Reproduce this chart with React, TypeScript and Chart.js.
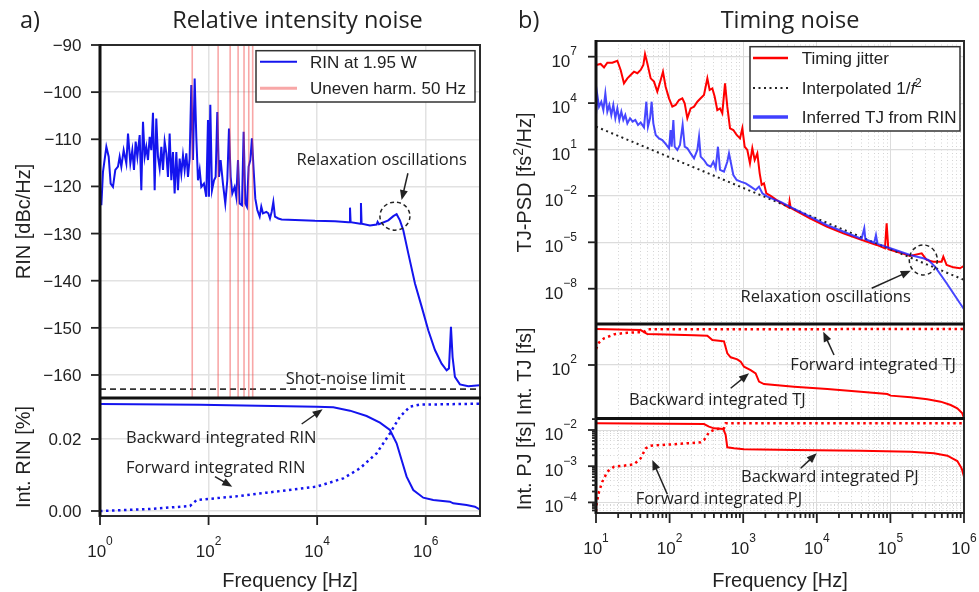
import React, { useEffect, useRef } from 'react';
import { Chart, registerables } from 'chart.js';

Chart.register(...registerables);

// ================= DATA: panel a) Relative intensity noise =================
// log10(frequency / Hz) and RIN in dBc/Hz
const rinLogFreq = [0.025, 0.055, 0.117, 0.160, 0.196, 0.239, 0.282, 0.331, 0.362, 0.393, 0.436, 0.485, 0.516, 0.559, 0.595, 0.626, 0.657, 0.688, 0.731, 0.761, 0.792, 0.823, 0.853, 0.884, 0.915, 0.945, 0.976, 1.007, 1.037, 1.068, 1.099, 1.130, 1.160, 1.191, 1.222, 1.252, 1.283, 1.314, 1.344, 1.375, 1.406, 1.436, 1.467, 1.498, 1.529, 1.559, 1.590, 1.621, 1.651, 1.682, 1.713, 1.744, 1.774, 1.805, 1.836, 1.866, 1.915, 1.958, 1.989, 2.007, 2.032, 2.063, 2.100, 2.130, 2.161, 2.192, 2.222, 2.265, 2.308, 2.345, 2.376, 2.407, 2.437, 2.480, 2.511, 2.542, 2.572, 2.615, 2.646, 2.677, 2.707, 2.738, 2.769, 2.799, 2.830, 2.861, 2.898, 2.941, 2.971, 3.002, 3.064, 3.100, 3.131, 3.162, 3.193, 3.223, 3.285, 3.346, 3.592, 3.960, 4.328, 4.574, 4.598, 4.605, 4.617, 4.795, 4.807, 4.819, 4.973, 5.096, 5.114, 5.139, 5.311, 5.403, 5.464, 5.525, 5.587, 5.679, 5.802, 5.925, 6.047, 6.170, 6.293, 6.385, 6.428, 6.465, 6.495, 6.538, 6.630, 6.784, 6.994];
const rinDbc = [-124.0, -116.9, -111.6, -113.7, -119.4, -120.1, -116.5, -115.8, -113.7, -115.8, -112.3, -115.1, -108.8, -115.1, -112.3, -116.5, -110.5, -113.7, -109.1, -120.8, -106.3, -113.7, -111.6, -114.4, -109.5, -112.3, -104.4, -120.8, -105.6, -113.7, -116.2, -111.6, -116.5, -110.5, -113.0, -118.0, -108.8, -118.7, -112.7, -121.5, -112.7, -120.8, -114.1, -117.3, -113.4, -116.5, -113.0, -118.0, -114.1, -98.5, -114.4, -97.1, -109.5, -118.7, -116.5, -120.1, -119.4, -122.2, -105.9, -122.2, -102.7, -120.8, -118.7, -118.0, -104.2, -118.0, -114.4, -119.4, -123.6, -118.7, -107.7, -118.0, -121.5, -120.1, -122.2, -114.4, -123.6, -124.0, -108.4, -123.6, -124.3, -115.8, -114.4, -109.8, -116.5, -122.6, -125.0, -126.4, -124.3, -125.7, -125.4, -125.7, -126.8, -125.4, -123.3, -126.4, -126.8, -127.0, -127.1, -127.3, -127.4, -127.6, -127.6, -124.5, -127.6, -127.9, -123.5, -127.9, -128.3, -128.1, -127.5, -128.0, -127.2, -126.3, -125.9, -127.2, -129.3, -134.2, -140.6, -145.5, -150.5, -154.7, -157.6, -159.0, -158.6, -149.8, -156.2, -160.4, -162.0, -162.4, -162.2];
const harmonicFreqs = [50, 150, 250, 350, 450, 550, 650];
const shotNoiseDbc = -163;
const intRinBackLogFreq = [0.0, 1.842, 3.990, 4.297, 4.604, 4.911, 5.157, 5.341, 5.464, 5.556, 5.648, 5.771, 5.955, 6.139, 6.446, 6.507, 6.753, 6.906, 6.994];
const intRinBack = [0.02972, 0.02954, 0.02898, 0.02880, 0.02787, 0.02639, 0.02454, 0.02250, 0.01880, 0.01417, 0.00954, 0.00583, 0.00370, 0.00306, 0.00259, 0.00213, 0.00167, 0.00120, 0.00046];
const intRinFwdLogFreq = [0.0, 0.921, 1.658, 1.780, 2.456, 3.070, 3.990, 4.481, 4.788, 5.095, 5.341, 5.525, 5.709, 5.894, 6.994];
const intRinFwd = [0.0, 0.00056, 0.00139, 0.00306, 0.00398, 0.00509, 0.00676, 0.00907, 0.01185, 0.01602, 0.02157, 0.02620, 0.02898, 0.02954, 0.02981];
const rinTicks = [-90, -100, -110, -120, -130, -140, -150, -160];
const intRinTicks = [0, 0.02];
const leftFreqTickExp = [0, 2, 4, 6];

// ================= DATA: panel b) Timing noise =================
// log10(frequency / Hz) and log10(TJ-PSD / fs^2/Hz)
const tjLogFreq = [1.0, 1.063, 1.109, 1.154, 1.222, 1.290, 1.335, 1.380, 1.426, 1.471, 1.516, 1.562, 1.607, 1.643, 1.666, 1.697, 1.743, 1.788, 1.833, 1.879, 1.910, 1.946, 1.992, 2.037, 2.082, 2.128, 2.173, 2.205, 2.241, 2.286, 2.332, 2.377, 2.422, 2.467, 2.513, 2.544, 2.581, 2.612, 2.648, 2.685, 2.716, 2.753, 2.784, 2.821, 2.866, 2.911, 2.957, 2.988, 3.020, 3.056, 3.092, 3.124, 3.156, 3.192, 3.224, 3.251, 3.282, 3.314, 3.373, 3.441, 3.509, 3.620, 3.630, 3.645, 3.681, 3.907, 4.134, 4.360, 4.587, 4.813, 4.926, 4.949, 4.972, 5.130, 5.266, 5.425, 5.493, 5.583, 5.696, 5.719, 5.764, 5.855, 5.945, 6.0];
const tjLogPsd = [6.46, 6.53, 6.31, 6.61, 6.61, 6.74, 6.14, 5.28, 5.60, 5.82, 6.03, 5.93, 6.14, 6.46, 7.17, 6.57, 5.60, 5.39, 4.74, 5.49, 6.03, 5.06, 4.31, 3.77, 3.88, 4.20, 4.31, 3.98, 3.02, 3.66, 3.77, 4.09, 4.31, 4.52, 5.60, 4.85, 4.95, 4.42, 3.55, 3.66, 3.34, 5.28, 3.77, 2.37, 2.26, 1.94, 1.72, 2.37, 1.18, 0.97, 0.11, 1.08, 0.32, 0.75, -0.54, -1.29, -1.19, -1.83, -2.0, -2.22, -2.44, -2.75, -2.35, -2.78, -2.87, -3.45, -3.99, -4.42, -4.81, -5.17, -5.39, -3.77, -5.45, -5.67, -5.88, -5.71, -6.14, -6.25, -6.25, -5.93, -6.47, -6.62, -6.68, -6.53];
const rinTjLogFreq = [1.0, 1.018, 1.041, 1.072, 1.100, 1.127, 1.154, 1.181, 1.208, 1.235, 1.263, 1.290, 1.317, 1.344, 1.371, 1.398, 1.426, 1.462, 1.498, 1.534, 1.571, 1.607, 1.652, 1.684, 1.706, 1.734, 1.756, 1.779, 1.811, 1.856, 1.901, 1.946, 1.992, 2.014, 2.028, 2.051, 2.069, 2.105, 2.141, 2.177, 2.205, 2.241, 2.286, 2.332, 2.377, 2.400, 2.422, 2.467, 2.513, 2.558, 2.594, 2.626, 2.657, 2.685, 2.739, 2.784, 2.807, 2.830, 2.866, 2.911, 2.966, 3.034, 3.102, 3.169, 3.215, 3.260, 3.328, 3.418, 3.509, 3.681, 4.134, 4.587, 4.610, 4.645, 4.660, 4.780, 4.804, 4.825, 5.040, 5.266, 5.447, 5.515, 5.606, 5.764, 5.900, 6.0];
const rinTjLogPsd = [3.23, 4.52, 3.77, 4.09, 3.55, 4.63, 3.45, 3.88, 3.23, 3.88, 3.02, 3.66, 2.91, 3.45, 2.91, 3.23, 2.69, 3.02, 2.80, 2.91, 2.59, 2.74, 2.43, 4.09, 2.48, 3.02, 4.09, 2.69, 1.94, 1.72, 1.61, 1.36, 1.08, 2.26, 1.18, 2.91, 1.18, 0.97, 1.29, 2.59, 1.18, 1.08, 0.75, 0.43, 0.97, 1.83, 0.54, 0.32, 0.0, -0.11, 0.21, -0.22, 1.18, -0.32, -0.43, 0.21, 0.75, 0.21, -0.65, -0.97, -1.08, -1.19, -1.40, -1.62, -1.40, -1.83, -2.05, -2.22, -2.39, -2.80, -3.88, -4.74, -4.76, -4.09, -4.80, -5.03, -4.53, -5.10, -5.45, -5.82, -6.03, -6.14, -6.57, -7.65, -8.62, -9.33];
const interpLogFreq = [1.0, 6.0];
const interpLogPsd = [2.48, -7.43];
// log10(integrated timing jitter / fs)
const intTjBackLogFreq = [1.0, 1.607, 1.698, 2.332, 2.513, 2.581, 2.671, 2.739, 2.784, 2.830, 2.920, 2.966, 3.011, 3.101, 3.169, 3.215, 3.282, 3.690, 4.143, 4.596, 4.958, 5.004, 5.275, 5.502, 5.683, 5.819, 5.909, 5.977, 6.0];
const intTjBackLog = [2.450, 2.437, 2.387, 2.371, 2.367, 2.312, 2.304, 2.296, 2.146, 2.096, 2.071, 2.042, 1.979, 1.937, 1.896, 1.792, 1.762, 1.729, 1.700, 1.667, 1.637, 1.617, 1.596, 1.571, 1.542, 1.500, 1.458, 1.396, 1.335];
const intTjFwdLogFreq = [1.0, 1.041, 1.109, 1.244, 1.426, 1.652, 1.698, 6.0];
const intTjFwdLog = [2.20, 2.28, 2.333, 2.383, 2.404, 2.412, 2.446, 2.450];
// log10(integrated phase jitter / fs)
const intPjBackLogFreq = [1.0, 2.467, 2.535, 2.603, 2.730, 2.762, 2.784, 2.875, 3.011, 3.690, 4.596, 5.275, 5.592, 5.774, 5.909, 5.968, 6.0];
const intPjBackLog = [-1.816, -1.835, -1.908, -1.954, -1.973, -2.138, -2.479, -2.507, -2.534, -2.553, -2.571, -2.599, -2.645, -2.709, -2.857, -3.059, -3.29];
const intPjFwdLogFreq = [1.0, 1.009, 1.041, 1.086, 1.154, 1.244, 1.380, 1.516, 1.607, 1.675, 1.743, 1.879, 2.105, 2.422, 2.467, 2.535, 2.626, 2.739, 2.762, 6.0];
const intPjFwdLog = [-4.25, -4.026, -3.704, -3.428, -3.151, -3.013, -2.985, -2.949, -2.783, -2.507, -2.433, -2.415, -2.387, -2.341, -2.277, -2.065, -1.973, -1.954, -1.816, -1.816];
const psdTickExp = [7, 4, 1, -2, -5, -8];
const tjTickExp = [2];
const pjTickExp = [-2, -3, -4];
const rightFreqTickExp = [1, 2, 3, 4, 5, 6];

// ================= helpers / styling =================
const lg = (e: number) => Math.pow(10, e);
const pts = (lf: number[], v: number[], logY = false) =>
  lf.map((e, i) => ({ x: lg(e), y: logY ? lg(v[i]) : v[i] }));
const minus = (n: number) => (n < 0 ? '\u2212' + Math.abs(n) : String(n));
const pow10 = (e: number) => [{ t: '10' }, { t: minus(e), sup: true }];
const isMajor = (v: number) => v > 0 && Math.abs(Math.log10(v) - Math.round(Math.log10(v))) < 1e-6;

const TICK_FONT = '"Liberation Sans", Arial, Helvetica, sans-serif';
const NOTE_FONT = '"Open Sans", "Noto Sans", sans-serif';
const INK = '#222222';

const RIN_MIN = -164.88, RIN_MAX = -90;
const INT_MIN = -0.00139, INT_MAX = 0.03139;
const PSD_MIN = lg(-10.282), PSD_MAX = lg(8.015);
const TJ_MIN = lg(1.33125), TJ_MAX = lg(2.5125);
const PJ_MIN = lg(-4.2928), PJ_MAX = lg(-1.6823);

function minorLogTicks(minV: number, maxV: number) {
  const out: number[] = [];
  for (let e = -12; e <= 9; e++) {
    for (let k = 1; k <= 9; k++) {
      const v = k * Math.pow(10, e);
      if (v >= minV * 0.9999 && v <= maxV * 1.0001) out.push(v);
    }
  }
  return out;
}

function drawSegs(ctx: any, segs: any[], x: number, y: number, size: number, family: string, align: string, raise = 0.42) {
  const supSize = Math.round(size * 0.7);
  const fontOf = (s: any) => `${s.italic ? 'italic ' : ''}${s.sup ? supSize : size}px ${family}`;
  const widths = segs.map((s) => { ctx.font = fontOf(s); return ctx.measureText(s.t).width; });
  const total = widths.reduce((a: number, b: number) => a + b, 0);
  let cx = align === 'left' ? x : align === 'center' ? x - total / 2 : x - total;
  ctx.textAlign = 'left';
  ctx.textBaseline = 'alphabetic';
  segs.forEach((s, i) => {
    ctx.font = fontOf(s);
    ctx.fillText(s.t, cx, s.sup ? y - size * raise : y);
    cx += widths[i];
  });
}

function decorPlugin(spec: any) {
  return {
    id: 'decor',
    afterDraw(chart: any) {
      const ctx = chart.ctx;
      const ca = chart.chartArea;
      const xs = chart.scales[spec.xId];
      const line = (x1: number, y1: number, x2: number, y2: number) => {
        ctx.beginPath(); ctx.moveTo(x1, y1); ctx.lineTo(x2, y2); ctx.stroke();
      };
      ctx.save();
      ctx.fillStyle = INK;
      ctx.strokeStyle = INK;

      // annotations
      spec.notes.forEach((n: any) => {
        const ys = chart.scales[n.axis];
        ctx.fillStyle = INK; ctx.strokeStyle = INK;
        if (n.text) {
          drawSegs(ctx, [{ t: n.text }], xs.getPixelForValue(n.x), ys.getPixelForValue(n.y), 16.5, NOTE_FONT, n.align);
        }
        if (n.arrow) {
          const [a, b, c, d] = n.arrow;
          const x1 = xs.getPixelForValue(a), y1 = ys.getPixelForValue(b);
          const x2 = xs.getPixelForValue(c), y2 = ys.getPixelForValue(d);
          const ang = Math.atan2(y2 - y1, x2 - x1);
          const cs = Math.cos(ang), sn = Math.sin(ang);
          ctx.lineWidth = 1.5;
          line(x1, y1, x2 - 6 * cs, y2 - 6 * sn);
          const bx = x2 - 10 * cs, by = y2 - 10 * sn;
          ctx.beginPath();
          ctx.moveTo(x2, y2);
          ctx.lineTo(bx - 4 * sn, by + 4 * cs);
          ctx.lineTo(bx + 4 * sn, by - 4 * cs);
          ctx.closePath();
          ctx.fill();
        }
        if (n.ellipse) {
          const [a, b, rx, ry] = n.ellipse;
          ctx.lineWidth = 1.5;
          ctx.setLineDash([4, 3]);
          ctx.beginPath();
          ctx.ellipse(xs.getPixelForValue(a), ys.getPixelForValue(b), rx, ry, 0, 0, Math.PI * 2);
          ctx.stroke();
          ctx.setLineDash([]);
        }
      });

      // legend
      const lgd = spec.legend;
      ctx.fillStyle = '#ffffff';
      ctx.fillRect(lgd.x, lgd.y, lgd.w, lgd.h);
      ctx.lineWidth = 1.5;
      ctx.strokeStyle = '#333333';
      ctx.strokeRect(lgd.x, lgd.y, lgd.w, lgd.h);
      lgd.items.forEach((it: any) => {
        ctx.strokeStyle = it.color;
        ctx.lineWidth = it.width;
        ctx.setLineDash(it.dash || []);
        line(lgd.lineX[0], it.y, lgd.lineX[1], it.y);
        ctx.setLineDash([]);
        ctx.fillStyle = INK;
        drawSegs(ctx, it.segs, lgd.textX, it.y + 6, 17, TICK_FONT, 'left');
      });

      // frames
      spec.yAxes.forEach((ax: any) => {
        const s = chart.scales[ax.id];
        ctx.lineWidth = 2;
        ctx.strokeStyle = '#2b2b2b';
        ctx.strokeRect(ca.left, s.top, ca.right - ca.left, s.bottom - s.top);
      });
      ctx.strokeStyle = '#111111';
      ctx.lineWidth = 3;
      line(ca.left, ca.top - 1, ca.left, ca.bottom + 1);
      spec.yAxes.slice(0, -1).forEach((ax: any) => {
        const s = chart.scales[ax.id];
        line(ca.left, s.bottom, ca.right + 1, s.bottom);
      });

      // y ticks, labels, titles
      ctx.fillStyle = INK;
      ctx.strokeStyle = INK;
      spec.yAxes.forEach((ax: any) => {
        const s = chart.scales[ax.id];
        ctx.lineWidth = 1.8;
        ax.marks.forEach((m: any) => {
          const y = s.getPixelForValue(m.v);
          line(ca.left - m.len, y, ca.left, y);
        });
        ax.labels.forEach((l: any) => {
          const y = s.getPixelForValue(l.v);
          drawSegs(ctx, l.segs, ca.left - spec.yLabelGap, y + l.dy, 17, TICK_FONT, 'right', 0.68);
        });
        ctx.save();
        ctx.translate(spec.yTitleX, (s.top + s.bottom) / 2);
        ctx.rotate(-Math.PI / 2);
        drawSegs(ctx, ax.title, 0, 0, 20, TICK_FONT, 'center', 0.4);
        ctx.restore();
      });

      // x ticks, labels, title
      ctx.lineWidth = 1.8;
      spec.xMarks.forEach((m: any) => {
        const x = xs.getPixelForValue(m.v);
        line(x, ca.bottom, x, ca.bottom + m.len);
      });
      spec.xLabels.forEach((l: any) => {
        drawSegs(ctx, l.segs, xs.getPixelForValue(l.v), ca.bottom + 41, 17, TICK_FONT, 'center', 0.68);
      });
      drawSegs(ctx, [{ t: spec.xTitle }], (ca.left + ca.right) / 2, spec.xTitleY, 20, TICK_FONT, 'center');

      // panel titles
      spec.texts.forEach((t: any) => {
        drawSegs(ctx, [{ t: t.t }], t.x, t.y, t.size, NOTE_FONT, t.align);
      });
      ctx.restore();
    },
  };
}

const gridColor = (c: any) => (c.tick && isMajor(c.tick.value) ? '#dcdcdc' : '#d4d4d4');
const gridDash = (c: any) => (c.tick && isMajor(c.tick.value) ? [] : [1, 2.5]);
const lineDs = (data: any[], yAxisID: string, color: string, width: number, extra: any = {}) => ({
  data, yAxisID, borderColor: color, backgroundColor: color, borderWidth: width,
  pointRadius: 0, fill: false, tension: 0, ...extra,
});

function leftConfig(): any {
  const datasets: any[] = [];
  harmonicFreqs.forEach((h) => {
    datasets.push(lineDs([{ x: h, y: RIN_MIN }, { x: h, y: RIN_MAX }], 'yRin', 'rgba(240,60,60,0.45)', 1.6, { order: 0 }));
  });
  datasets.push(lineDs(pts(rinLogFreq, rinDbc), 'yRin', '#1414ee', 2, { order: 2 }));
  datasets.push(lineDs([{ x: 1, y: shotNoiseDbc }, { x: 1e7, y: shotNoiseDbc }], 'yRin', '#333333', 1.8, { borderDash: [6, 4], order: 1 }));
  datasets.push(lineDs(pts(intRinBackLogFreq, intRinBack), 'yInt', '#1414ee', 2, { order: 3 }));
  datasets.push(lineDs(pts(intRinFwdLogFreq, intRinFwd), 'yInt', '#1414ee', 2.5, { borderDash: [2.5, 3.5], order: 4 }));

  const spec = {
    xId: 'x',
    xMarks: leftFreqTickExp.map((e) => ({ v: lg(e), len: 9 })),
    xLabels: leftFreqTickExp.map((e) => ({ v: lg(e), segs: pow10(e) })),
    xTitle: 'Frequency [Hz]',
    xTitleY: 587,
    yLabelGap: 18.5,
    yTitleX: 29.5,
    yAxes: [
      {
        id: 'yRin',
        marks: rinTicks.map((v) => ({ v, len: 9 })),
        labels: rinTicks.map((v) => ({ v, segs: [{ t: minus(v) }], dy: 6 })),
        title: [{ t: 'RIN [dBc/Hz]' }],
      },
      {
        id: 'yInt',
        marks: intRinTicks.map((v) => ({ v, len: 9 })),
        labels: intRinTicks.map((v) => ({ v, segs: [{ t: v.toFixed(2) }], dy: 6 })),
        title: [{ t: 'Int. RIN [%]' }],
      },
    ],
    legend: {
      x: 256, y: 50.7, w: 219, h: 51.3, lineX: [260, 297], textX: 310,
      items: [
        { segs: [{ t: 'RIN at 1.95 W' }], color: '#1414ee', width: 2, y: 61.7 },
        { segs: [{ t: 'Uneven harm. 50 Hz' }], color: 'rgba(240,60,60,0.45)', width: 3, y: 88.3 },
      ],
    },
    notes: [
      { axis: 'yRin', x: lg(5.188), y: -115.5, text: 'Relaxation oscillations', align: 'center' },
      { axis: 'yRin', arrow: [lg(5.672), -117.2, lg(5.556), -122.9] },
      { axis: 'yRin', ellipse: [lg(5.433), -126.3, 15, 14] },
      { axis: 'yRin', x: lg(4.521), y: -162.0, text: 'Shot-noise limit', align: 'center' },
      { axis: 'yInt', x: lg(0.479), y: 0.01897, text: 'Backward integrated RIN', align: 'left' },
      { axis: 'yInt', arrow: [lg(3.715), 0.02417, lg(4.101), 0.02825] },
      { axis: 'yInt', x: lg(0.479), y: 0.01064, text: 'Forward integrated RIN', align: 'left' },
      { axis: 'yInt', arrow: [lg(2.118), 0.00953, lg(2.436), 0.00675] },
    ],
    texts: [
      { t: 'a)', x: 20, y: 28, size: 23.5, align: 'left' },
      { t: 'Relative intensity noise', x: 297.5, y: 28.3, size: 23.5, align: 'center' },
    ],
  };

  const flatGrid = { color: '#e2e2e2', lineWidth: 1.5, drawTicks: false };
  return {
    type: 'line',
    data: { datasets },
    options: {
      responsive: false,
      animation: false,
      events: [],
      layout: { padding: { top: 45, right: 10, left: 0, bottom: 0 } },
      plugins: { legend: { display: false }, tooltip: { enabled: false } },
      scales: {
        x: {
          type: 'logarithmic', min: 1, max: 1e7, position: 'bottom',
          afterBuildTicks: (s: any) => { s.ticks = leftFreqTickExp.map((e) => ({ value: lg(e) })); },
          ticks: { display: false }, grid: flatGrid, border: { display: false },
          afterFit: (s: any) => { s.height = 76; },
        },
        yRin: {
          type: 'linear', min: RIN_MIN, max: RIN_MAX, position: 'left', stack: 'L', stackWeight: 353, weight: 2,
          afterBuildTicks: (s: any) => { s.ticks = rinTicks.map((v) => ({ value: v })); },
          ticks: { display: false }, grid: flatGrid, border: { display: false },
          afterFit: (s: any) => { s.width = 100; },
        },
        yInt: {
          type: 'linear', min: INT_MIN, max: INT_MAX, position: 'left', stack: 'L', stackWeight: 118, weight: 1,
          afterBuildTicks: (s: any) => { s.ticks = intRinTicks.map((v) => ({ value: v })); },
          ticks: { display: false }, grid: flatGrid, border: { display: false },
          afterFit: (s: any) => { s.width = 100; },
        },
      },
    },
    plugins: [decorPlugin(spec)],
  };
}

function rightConfig(): any {
  const datasets: any[] = [
    lineDs(pts(rinTjLogFreq, rinTjLogPsd, true), 'yPsd', 'rgba(30,30,255,0.82)', 2, { order: 0 }),
    lineDs(pts(interpLogFreq, interpLogPsd, true), 'yPsd', '#222222', 2, { borderDash: [2, 3.5], order: 1 }),
    lineDs(pts(tjLogFreq, tjLogPsd, true), 'yPsd', '#ff0000', 2, { order: 2 }),
    lineDs(pts(intTjBackLogFreq, intTjBackLog, true), 'yTj', '#ff0000', 2, { order: 3 }),
    lineDs(pts(intTjFwdLogFreq, intTjFwdLog, true), 'yTj', '#ff0000', 2.5, { borderDash: [2.5, 3.5], order: 4 }),
    lineDs(pts(intPjBackLogFreq, intPjBackLog, true), 'yPj', '#ff0000', 2, { order: 5 }),
    lineDs(pts(intPjFwdLogFreq, intPjFwdLog, true), 'yPj', '#ff0000', 2.5, { borderDash: [2.5, 3.5], order: 6 }),
  ];

  const xAll = minorLogTicks(10, 1e6);
  const pjAll = minorLogTicks(PJ_MIN, PJ_MAX);

  const spec = {
    xId: 'x',
    xMarks: xAll.map((v) => ({ v, len: isMajor(v) ? 10 : 5 })),
    xLabels: rightFreqTickExp.map((e) => ({ v: lg(e), segs: pow10(e) })),
    xTitle: 'Frequency [Hz]',
    xTitleY: 587,
    yLabelGap: 19,
    yTitleX: 41,
    yAxes: [
      {
        id: 'yPsd',
        marks: psdTickExp.map((e) => ({ v: lg(e), len: 8 })),
        labels: psdTickExp.map((e) => ({ v: lg(e), segs: pow10(e), dy: 10 })),
        title: [{ t: 'TJ-PSD [fs' }, { t: '2', sup: true }, { t: '/Hz]' }],
      },
      {
        id: 'yTj',
        marks: tjTickExp.map((e) => ({ v: lg(e), len: 8 })),
        labels: tjTickExp.map((e) => ({ v: lg(e), segs: pow10(e), dy: 10 })),
        title: [{ t: 'Int. TJ [fs]' }],
      },
      {
        id: 'yPj',
        marks: pjAll.map((v) => ({ v, len: isMajor(v) ? 8 : 4 })),
        labels: pjTickExp.map((e) => ({ v: lg(e), segs: pow10(e), dy: 10 })),
        title: [{ t: 'Int. PJ [fs]' }],
      },
    ],
    legend: {
      x: 260, y: 46.7, w: 210, h: 84.3, lineX: [263, 298], textX: 311.7,
      items: [
        { segs: [{ t: 'Timing jitter' }], color: '#ff0000', width: 2.5, y: 58 },
        { segs: [{ t: 'Interpolated 1/' }, { t: 'f', italic: true }, { t: '2', sup: true }], color: '#222222', width: 2, dash: [2, 3.5], y: 88 },
        { segs: [{ t: 'Inferred TJ from RIN' }], color: 'rgba(30,30,255,0.85)', width: 3.5, y: 117 },
      ],
    },
    notes: [
      { axis: 'yPsd', x: lg(4.121), y: lg(-8.857), text: 'Relaxation oscillations', align: 'center' },
      { axis: 'yPsd', arrow: [lg(4.746), lg(-7.971), lg(5.276), lg(-6.833)] },
      { axis: 'yPsd', ellipse: [lg(5.447), lg(-6.142), 14, 15] },
      { axis: 'yTj', x: lg(4.766), y: lg(1.9375), text: 'Forward integrated TJ', align: 'center' },
      { axis: 'yTj', arrow: [lg(4.234), lg(2.125), lg(4.088), lg(2.416)] },
      { axis: 'yTj', x: lg(2.648), y: lg(1.5), text: 'Backward integrated TJ', align: 'center' },
      { axis: 'yTj', arrow: [lg(2.830), lg(1.709), lg(3.079), lg(1.896)] },
      { axis: 'yPj', x: lg(4.178), y: lg(-3.428), text: 'Backward integrated PJ', align: 'center' },
      { axis: 'yPj', arrow: [lg(3.781), lg(-3.058), lg(3.999), lg(-2.644)] },
      { axis: 'yPj', x: lg(2.671), y: lg(-4.052), text: 'Forward integrated PJ', align: 'center' },
      { axis: 'yPj', arrow: [lg(1.969), lg(-3.776), lg(1.765), lg(-2.829)] },
    ],
    texts: [
      { t: 'b)', x: 28, y: 28, size: 23.5, align: 'left' },
      { t: 'Timing noise', x: 300, y: 28.3, size: 23.5, align: 'center' },
    ],
  };

  const majorGrid = { color: '#dcdcdc', lineWidth: 1.2, drawTicks: false };
  const mixedGrid = { color: gridColor, lineWidth: 1, drawTicks: false };
  return {
    type: 'line',
    data: { datasets },
    options: {
      responsive: false,
      animation: false,
      events: [],
      layout: { padding: { top: 41, right: 15, left: 0, bottom: 0 } },
      plugins: { legend: { display: false }, tooltip: { enabled: false } },
      scales: {
        x: {
          type: 'logarithmic', min: 10, max: 1e6, position: 'bottom',
          afterBuildTicks: (s: any) => { s.ticks = xAll.map((v) => ({ value: v })); },
          ticks: { display: false }, grid: mixedGrid, border: { display: false, dash: gridDash },
          afterFit: (s: any) => { s.height = 79; },
        },
        yPsd: {
          type: 'logarithmic', min: PSD_MIN, max: PSD_MAX, position: 'left', stack: 'R', stackWeight: 283, weight: 3,
          afterBuildTicks: (s: any) => { s.ticks = psdTickExp.map((e) => ({ value: lg(e) })); },
          ticks: { display: false }, grid: majorGrid, border: { display: false },
          afterFit: (s: any) => { s.width = 106; },
        },
        yTj: {
          type: 'logarithmic', min: TJ_MIN, max: TJ_MAX, position: 'left', stack: 'R', stackWeight: 94.5, weight: 2,
          afterBuildTicks: (s: any) => { s.ticks = tjTickExp.map((e) => ({ value: lg(e) })); },
          ticks: { display: false }, grid: majorGrid, border: { display: false },
          afterFit: (s: any) => { s.width = 106; },
        },
        yPj: {
          type: 'logarithmic', min: PJ_MIN, max: PJ_MAX, position: 'left', stack: 'R', stackWeight: 94.5, weight: 1,
          afterBuildTicks: (s: any) => { s.ticks = pjAll.map((v) => ({ value: v })); },
          ticks: { display: false }, grid: mixedGrid, border: { display: false, dash: gridDash },
          afterFit: (s: any) => { s.width = 106; },
        },
      },
    },
    plugins: [decorPlugin(spec)],
  };
}

export default function App() {
  const leftRef = useRef<HTMLCanvasElement>(null);
  const rightRef = useRef<HTMLCanvasElement>(null);
  useEffect(() => {
    const c1 = new Chart(leftRef.current as HTMLCanvasElement, leftConfig());
    const c2 = new Chart(rightRef.current as HTMLCanvasElement, rightConfig());
    return () => {
      c1.destroy();
      c2.destroy();
    };
  }, []);
  return (
    <div style={{ position: 'absolute', left: 0, top: 0, width: 979, height: 592, background: '#ffffff', overflow: 'hidden' }}>
      <canvas ref={leftRef} width={490} height={592} style={{ position: 'absolute', left: 0, top: 0, width: 490, height: 592 }} />
      <canvas ref={rightRef} width={489} height={592} style={{ position: 'absolute', left: 490, top: 0, width: 489, height: 592 }} />
    </div>
  );
}
